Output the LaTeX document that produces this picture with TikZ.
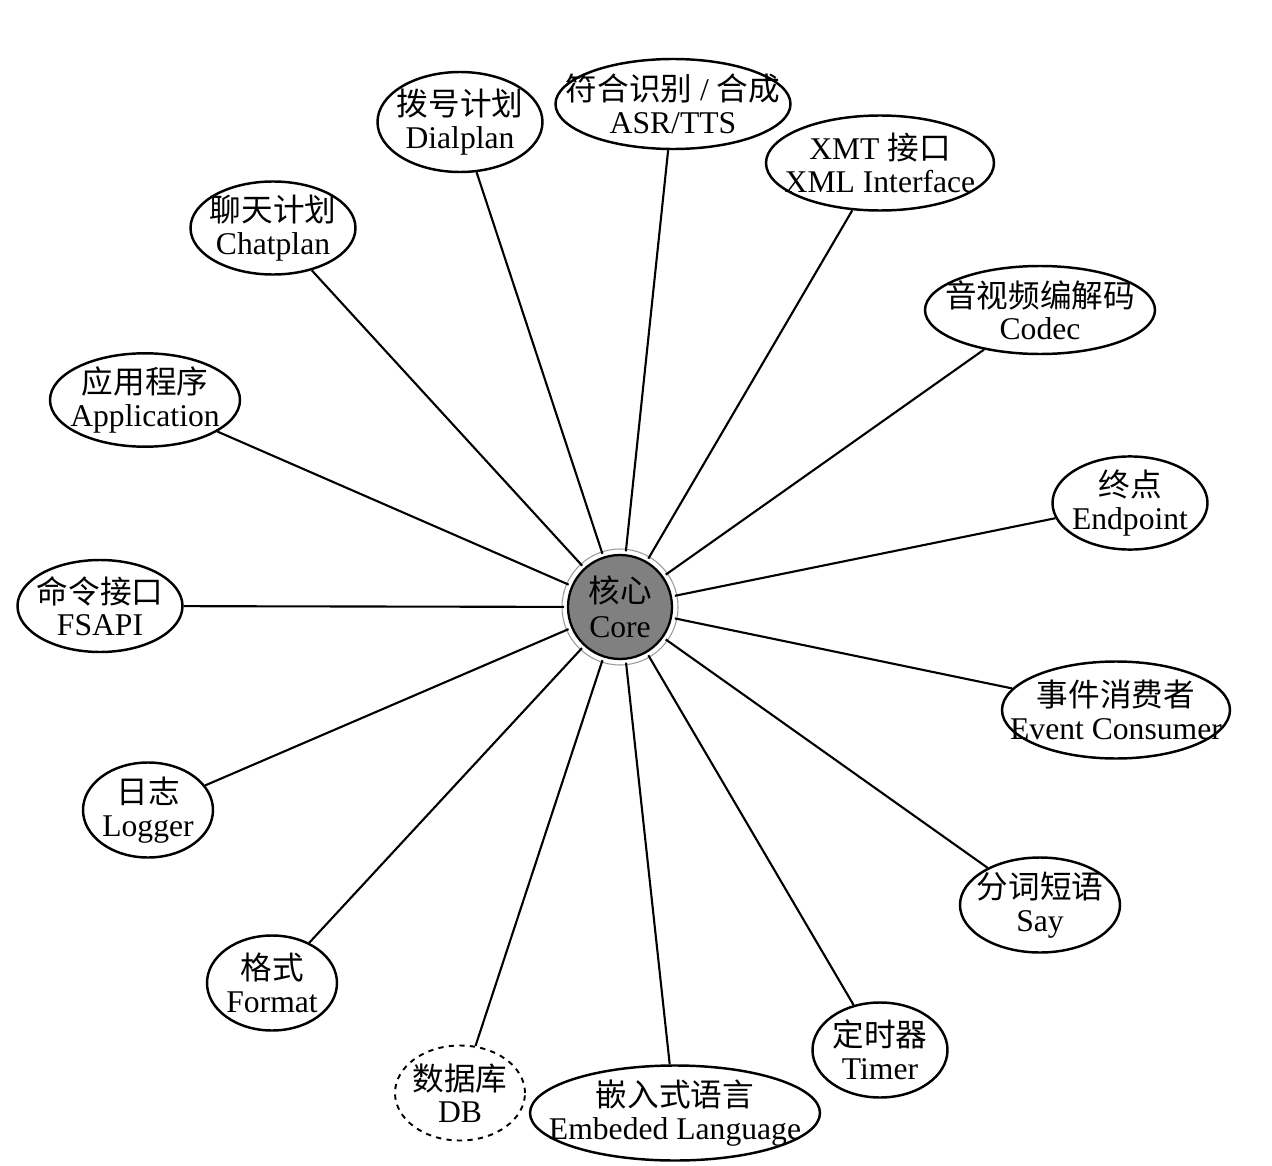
\documentclass[tikz,border=0pt]{standalone}
\usepackage{fontspec}
\setmainfont{Liberation Serif}
\newfontfamily\cjk{Noto Sans CJK SC}
\usetikzlibrary{shapes.geometric}

\begin{document}
\begin{tikzpicture}[x=0.02cm, y=-0.02cm,
    oval/.style 2 args={ellipse, draw, line width=1.4pt, inner xsep=-1cm, inner ysep=0pt,
        minimum width=#1*0.02cm, minimum height=#2*0.02cm, align=center,
        font=\fontsize{18}{18.5}\selectfont},
    core/.style={circle, draw=black, line width=1.3pt, fill=black!50, minimum size=104*0.02cm,
        inner sep=0pt, outer sep=4*0.02cm, align=center, font=\fontsize{18}{20}\selectfont},
    every edge/.style={draw, line width=1.2pt}]

    \useasboundingbox (0,0) rectangle (1272,1166);

    \node[core] (core) at (620,607) {{\cjk 核心}\\Core};
    \draw[black!40, line width=0.6pt] (core.center) circle[radius=58];

    \node[oval={165}{100}] (dial) at (460,122) {{\cjk 拨号计划}\\Dialplan};
    \node[oval={235}{90}] (asr) at (673,104) {{\cjk 符合识别} / {\cjk 合成}\\ASR/TTS};
    \node[oval={228}{95}] (xml) at (880,163) {XMT {\cjk 接口}\\XML Interface};
    \node[oval={165}{88}] (chat) at (273,228) {{\cjk 聊天计划}\\Chatplan};
    \node[oval={230}{88}] (codec) at (1040,310) {{\cjk 音视频编解码}\\Codec};
    \node[oval={190}{90}] (app) at (145,400) {{\cjk 应用程序}\\Application};
    \node[oval={155}{88}] (endp) at (1130,503) {{\cjk 终点}\\Endpoint};
    \node[oval={165}{92}] (api) at (100,606) {{\cjk 命令接口}\\FSAPI};
    \node[oval={228}{97}] (event) at (1116,710) {{\cjk 事件消费者}\\Event Consumer};
    \node[oval={130}{95}] (log) at (148,810) {{\cjk 日志}\\Logger};
    \node[oval={160}{95}] (say) at (1040,905) {{\cjk 分词短语}\\Say};
    \node[oval={130}{95}] (fmt) at (272,983) {{\cjk 格式}\\Format};
    \node[oval={135}{95}] (timer) at (880,1050) {{\cjk 定时器}\\Timer};
    \node[oval={130}{95}, dashed, line width=1.1pt] (db) at (460,1093) {{\cjk 数据库}\\DB};
    \node[oval={290}{95}] (lang) at (675,1113) {{\cjk 嵌入式语言}\\Embeded Language};

    \path
        (core) edge (dial)
        (core) edge (asr)
        (core) edge (xml)
        (core) edge (chat)
        (core) edge (codec)
        (core) edge (app)
        (core) edge (endp)
        (core) edge (api)
        (core) edge (event)
        (core) edge (log)
        (core) edge (say)
        (core) edge (fmt)
        (core) edge (timer)
        (core) edge (db)
        (core) edge (lang);

\end{tikzpicture}
\end{document}
